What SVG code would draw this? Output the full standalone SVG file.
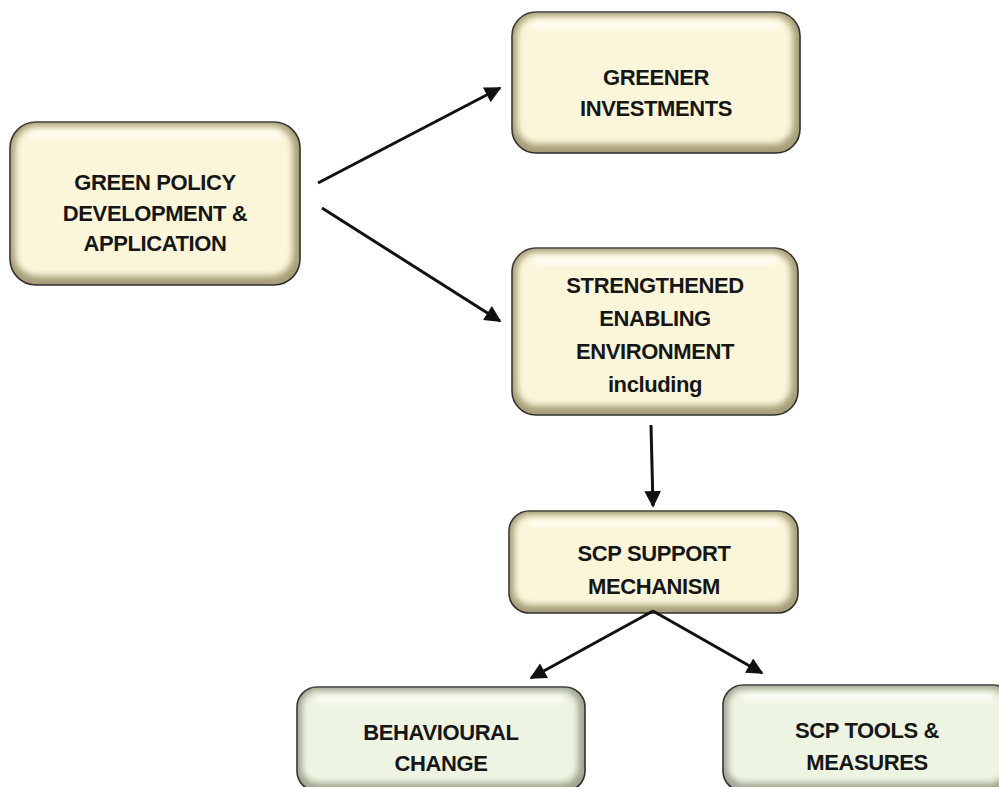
<svg xmlns="http://www.w3.org/2000/svg" width="999" height="787" viewBox="0 0 999 787">
<defs>
<style>
.edge{fill:#A79E78;stroke:#2e2e2e;stroke-width:1.6}
.edgeG{fill:#9FA690;stroke:#2e2e2e;stroke-width:1.6}
.face{fill:#FBF6DA;filter:url(#soft)}
.faceG{fill:#EEF4E2;filter:url(#soft)}
.hl{fill:#FFFFFA;opacity:0.7;filter:url(#soft2)}
.t{font-family:"Liberation Sans",Arial,sans-serif;font-weight:bold;font-size:22px;letter-spacing:-0.4px;fill:#161616;text-anchor:middle}
.c{stroke:#111;stroke-width:3;fill:none;marker-end:url(#ah)}
</style>
<filter id="soft" x="-10%" y="-10%" width="120%" height="120%"><feGaussianBlur stdDeviation="3.2"/></filter>
<filter id="soft2" x="-10%" y="-50%" width="120%" height="200%"><feGaussianBlur stdDeviation="2"/></filter>
<marker id="ah" viewBox="0 0 10 10" refX="9" refY="5" markerWidth="7" markerHeight="5.5" markerUnits="strokeWidth" orient="auto">
<path d="M0,0 L10,5 L0,10 z" fill="#111"/>
</marker>
</defs>
<rect width="999" height="787" fill="#fff"/>

<g id="green-policy">
<rect class="edge" x="10" y="122" width="290" height="163" rx="26"/>
<rect class="face" x="15" y="126" width="278" height="150" rx="22"/>
<rect class="hl" x="30" y="131" width="250" height="8" rx="4"/>
<text class="t" x="155" y="190">GREEN POLICY</text>
<text class="t" x="155" y="221">DEVELOPMENT &amp;</text>
<text class="t" x="155" y="251">APPLICATION</text>
</g>

<g id="greener-investments">
<rect class="edge" x="512" y="12" width="288" height="141" rx="24"/>
<rect class="face" x="517" y="16" width="276" height="128" rx="20"/>
<rect class="hl" x="532" y="21" width="248" height="8" rx="4"/>
<text class="t" x="656" y="85">GREENER</text>
<text class="t" x="656" y="116">INVESTMENTS</text>
</g>

<g id="strengthened">
<rect class="edge" x="512" y="248" width="286" height="167" rx="24"/>
<rect class="face" x="517" y="252" width="274" height="154" rx="20"/>
<rect class="hl" x="532" y="257" width="246" height="8" rx="4"/>
<text class="t" x="655" y="293">STRENGTHENED</text>
<text class="t" x="655" y="326">ENABLING</text>
<text class="t" x="655" y="359">ENVIRONMENT</text>
<text class="t" x="655" y="392">including</text>
</g>

<g id="scp-support">
<rect class="edge" x="509" y="511" width="289" height="102" rx="20"/>
<rect class="face" x="514" y="515" width="277" height="90" rx="16"/>
<rect class="hl" x="529" y="520" width="249" height="7" rx="3.5"/>
<text class="t" x="654" y="561">SCP SUPPORT</text>
<text class="t" x="654" y="594">MECHANISM</text>
</g>

<g id="behavioural">
<rect class="edgeG" x="297" y="687" width="288" height="104" rx="20"/>
<rect class="faceG" x="302" y="691" width="276" height="92" rx="16"/>
<rect class="hl" x="317" y="696" width="248" height="7" rx="3.5"/>
<text class="t" x="441" y="740">BEHAVIOURAL</text>
<text class="t" x="441" y="771">CHANGE</text>
</g>

<g id="scp-tools">
<rect class="edgeG" x="723" y="685" width="290" height="106" rx="20"/>
<rect class="faceG" x="728" y="689" width="278" height="94" rx="16"/>
<rect class="hl" x="743" y="694" width="250" height="7" rx="3.5"/>
<text class="t" x="867" y="738">SCP TOOLS &amp;</text>
<text class="t" x="867" y="770">MEASURES</text>
</g>

<g id="connectors">
<line class="c" x1="318" y1="183" x2="500" y2="88"/>
<line class="c" x1="322" y1="208" x2="500" y2="321"/>
<line class="c" x1="651" y1="425" x2="653" y2="506"/>
<line class="c" x1="653" y1="611" x2="531" y2="678"/>
<line class="c" x1="653" y1="611" x2="762" y2="673"/>
</g>
</svg>
